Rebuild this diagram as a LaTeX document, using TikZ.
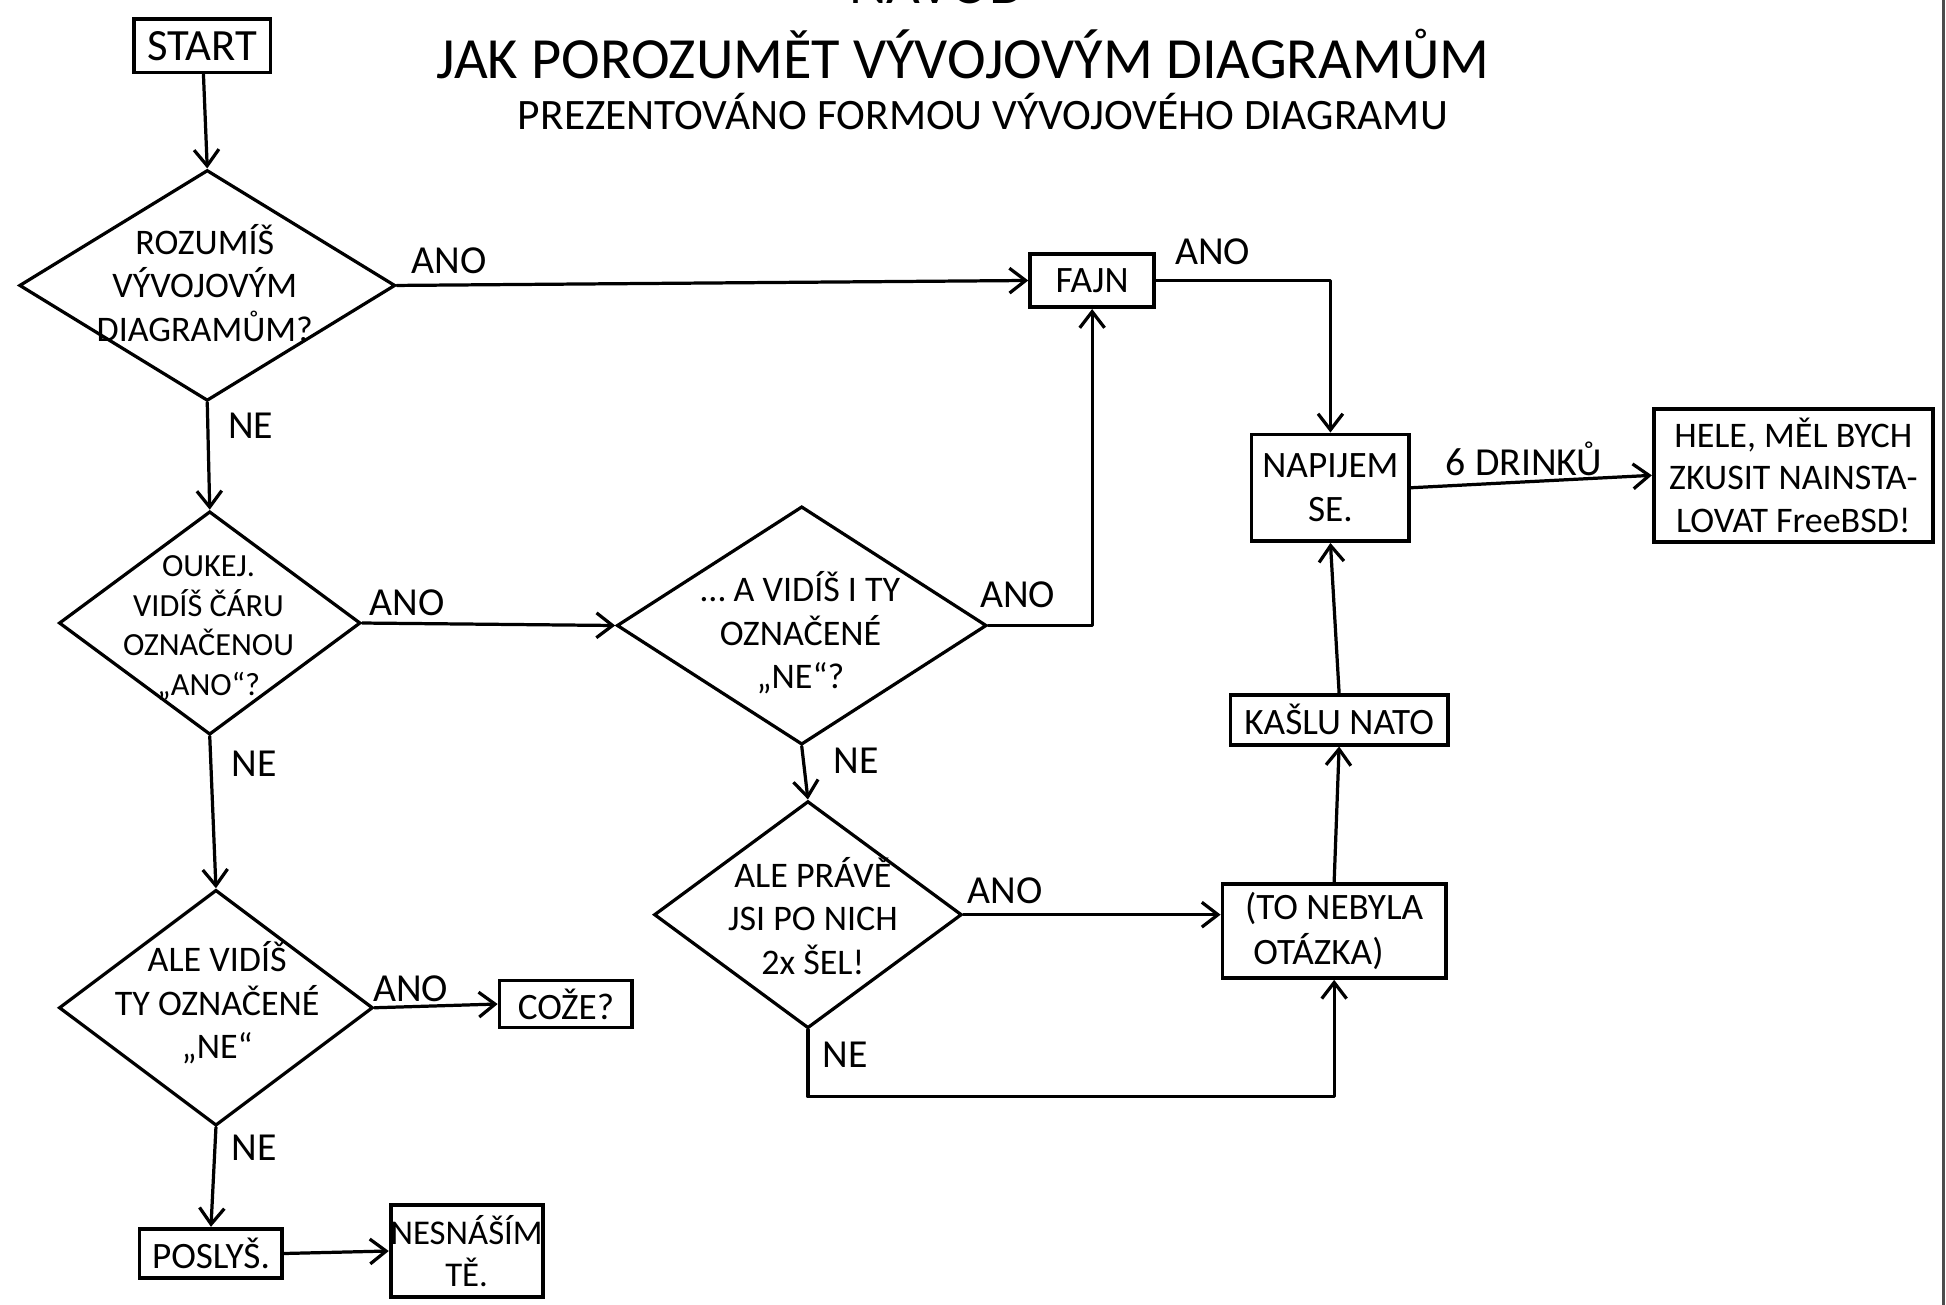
\documentclass[tikz,border=0pt]{standalone}
\usepackage{fontspec}
\setmainfont{Carlito}
\usetikzlibrary{arrows.meta,shapes.geometric,calc}
\tikzset{
  ln/.style={line width=2.6pt, line join=round, line cap=round},
  arr/.style={ln, -{Straight Barb[length=13pt,width=20pt]}},
  box/.style={draw, rectangle, line width=3pt, inner sep=0pt, align=center, font=\fontsize{30}{36}\selectfont},
  dia/.style={draw, diamond, line width=2.6pt, inner sep=0pt},
  dtxt/.style={align=center, inner sep=0pt, font=\fontsize{29}{35}\selectfont},
  lbl/.style={inner sep=0pt, font=\fontsize{32}{36}\selectfont},
  ttl/.style={inner sep=0pt, anchor=base, font=\fontsize{47}{50}\selectfont},
  sub/.style={inner sep=0pt, anchor=base, font=\fontsize{35}{40}\selectfont},
}
\begin{document}
\begin{tikzpicture}[x=1pt,y=-1pt]
\useasboundingbox (0,0) rectangle (1568,1051.5);
% panel edge
\draw[line width=3pt, black!70] (1566,0) -- (1566,1051.5);
% titles
\node[ttl] (navod) at (755,3) {NÁVOD};
\node[ttl] (title) at (776,63) {JAK POROZUMĚT VÝVOJOVÝM DIAGRAMŮM};
\node[sub] (subtitle) at (792,104) {PREZENTOVÁNO FORMOU VÝVOJOVÉHO DIAGRAMU};
% boxes
\node[box, minimum width=110pt, minimum height=43pt, font=\fontsize{36}{40}\selectfont] (start) at (163,37) {START};
\node[box, minimum width=100pt, minimum height=43pt] (fajn) at (880,226) {FAJN};
\node[box, minimum width=127pt, minimum height=86pt] (napijem) at (1072,393) {NAPIJEM\\SE.};
\node[box, minimum width=225pt, minimum height=107pt, font=\fontsize{29}{34}\selectfont] (hele) at (1445,383) {HELE, MĚL BYCH\\ZKUSIT NAINSTA-\\LOVAT FreeBSD!};
\node[box, minimum width=175pt, minimum height=40pt] (kaslu) at (1079,580) {KAŠLU NATO};
\node[box, minimum width=180pt, minimum height=76pt, align=left] (nebyla) at (1075,750) {(TO NEBYLA\\\ OTÁZKA)};
\node[box, minimum width=107pt, minimum height=38pt] (coze) at (456,809) {COŽE?};
\node[box, minimum width=115pt, minimum height=40pt] (poslys) at (170,1010) {POSLYŠ.};
\node[box, minimum width=122pt, minimum height=74pt, font=\fontsize{28}{34}\selectfont] (nesnasim) at (376,1008) {NESNÁŠÍM\\TĚ.};
% diamonds
\node[dia, minimum width=303pt, minimum height=186pt] (d1) at (167,230) {};
\node[dtxt] (d1t) at (165,228) {ROZUMÍŠ\\VÝVOJOVÝM\\DIAGRAMŮM?};
\node[dia, minimum width=243pt, minimum height=180pt] (d2) at (169,502) {};
\node[dtxt, font=\fontsize{26}{32}\selectfont] (d2t) at (168,506) {OUKEJ.\\VIDÍŠ ČÁRU\\OZNAČENOU\\„ANO“?};
\node[dia, minimum width=298pt, minimum height=192pt] (d3) at (646,504) {};
\node[dtxt] (d3t) at (645,510) {… A VIDÍŠ I TY\\OZNAČENÉ\\„NE“?};
\node[dia, minimum width=253pt, minimum height=190pt] (d4) at (174,812) {};
\node[dtxt] (d4t) at (175,808) {ALE VIDÍŠ\\TY OZNAČENÉ\\„NE“};
\node[dia, minimum width=248pt, minimum height=183pt] (d5) at (651,737) {};
\node[dtxt] (d5t) at (655,738) {ALE PRÁVĚ\\JSI PO NICH\\2x ŠEL!};
% labels
\node[lbl] (a1) at (362,210) {ANO};
\node[lbl] (n1) at (202,343) {NE};
\node[lbl] (a2) at (328,486) {ANO};
\node[lbl] (n2) at (205,615) {NE};
\node[lbl] (a4) at (331,797) {ANO};
\node[lbl] (n4) at (205,925) {NE};
\node[lbl] (a3) at (820,479) {ANO};
\node[lbl] (n3) at (690,613) {NE};
\node[lbl] (a5) at (810,718) {ANO};
\node[lbl] (n5) at (681,850) {NE};
\node[lbl] (af) at (977,203) {ANO};
\node[lbl] (drinks) at (1228,370) {6 DRINKŮ};
% connectors
\draw[arr] (start) -- (d1.north);
\draw[arr] (d1.east) -- (fajn.west);
\draw[arr] (d1.south) -- (d2.north);
\draw[arr] (d2.east) -- (d3.west);
\draw[arr] (d2.south) -- (d4.north);
\draw[arr] (d4.east) -- (coze.west);
\draw[arr] (d4.south) -- (poslys.north);
\draw[arr] (poslys.east) -- (nesnasim.west);
\draw[arr] (d3.east) -- (d3.east -| fajn.south) -- (fajn.south);
\draw[arr] (d3.south) -- (d5.north);
\draw[arr] (d5.east) -- (d5.east -| nebyla.west);
\draw[arr] (d5.south) -- ++(0,54) -| (nebyla.south);
\draw[arr] (nebyla.north) -- (kaslu.south);
\draw[arr] (kaslu.north) -- (napijem.south);
\draw[arr] (fajn.east) -| (napijem.north);
\draw[arr] (napijem.east) -- (hele.west);
\end{tikzpicture}
\end{document}
